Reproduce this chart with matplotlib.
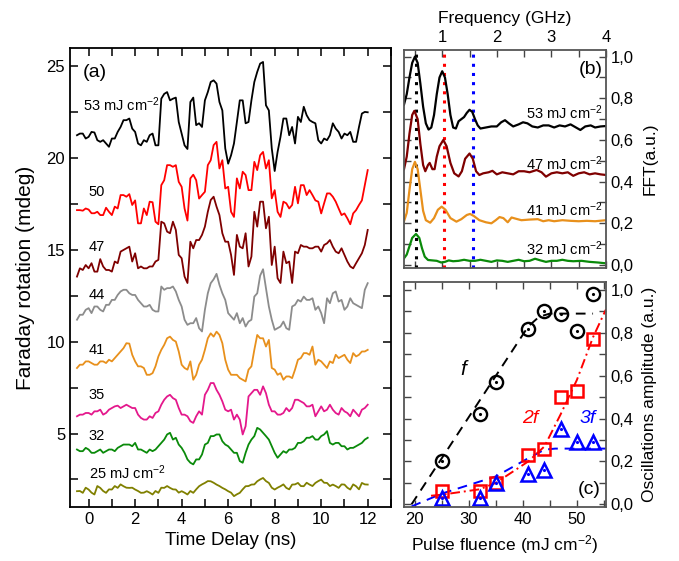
import numpy as np
import matplotlib
matplotlib.use("Agg")
import matplotlib.pyplot as plt
from matplotlib.ticker import MultipleLocator, FuncFormatter

plt.rcParams['font.family'] = ['Liberation Sans', 'DejaVu Sans']
plt.rcParams['mathtext.fontset'] = 'custom'
plt.rcParams['mathtext.rm'] = 'Liberation Sans'
plt.rcParams['mathtext.it'] = 'Liberation Sans:italic'

# ---- panel (a): Faraday rotation traces ----
# values read at t = -0.5, -0.25, ..., 12 (on) and at the midpoints -0.375, ..., 11.875 (mid)
t = np.arange(-0.5, 12.01, 0.125)

tr53_on = [21.25, 21.34, 21.16, 21.4, 20.89, 20.8, 21.07, 21.43, 22.07, 22.16, 21.43,
           20.7, 20.89, 21.34, 20.7, 23.5, 23.15, 23.3, 21.34, 20.5, 23.3, 21.9, 23.15,
           24.15, 24.06, 22.6, 19.7, 20.8, 23.15, 21.9, 23.15, 24.7, 25.24, 22.6, 19.3,
           21.16, 22.16, 21.7, 22.25, 22.8, 22.07, 21.9, 20.8, 20.98, 21.9, 21.43, 21.34,
           21.43, 20.89, 22.43, 22.5]
tr53_mid = [21.34, 21.07, 21.43, 20.98, 20.98, 20.62, 21.07, 21.7, 22.07, 21.61, 20.8,
            20.98, 21.25, 20.7, 23.24, 23.6, 23.24, 21.97, 20.7, 23.06, 21.8, 21.7, 23.6,
            24.24, 23.06, 20.53, 20.16, 21.97, 23.15, 21.97, 24.15, 25.15, 22.88, 20.53,
            20.34, 22.16, 21.25, 20.8, 21.97, 22.34, 21.97, 20.98, 21.07, 21.25, 21.61,
            21.07, 21.25, 20.89, 21.7, 22.52]
tr50_on = [17.17, 17.14, 17.2, 17.0, 16.9, 17.3, 16.9, 17.26, 17.99, 18.04, 17.7,
           16.45, 16.9, 17.6, 16.4, 18.8, 19.62, 19.62, 18.44, 16.6, 19.1, 17.8, 18.17,
           19.89, 20.89, 19.89, 18.44, 16.8, 18.35, 19.08, 18.26, 19.35, 20.34, 19.89,
           18.26, 16.8, 17.54, 17.45, 17.54, 18.53, 18.26, 17.7, 16.99, 18.08, 17.9,
           17.26, 16.99, 16.4, 17.17, 17.7, 19.35]
tr50_mid = [17.17, 17.26, 17.0, 17.08, 16.9, 17.08, 17.36, 17.99, 17.9, 17.45, 16.45,
            17.26, 17.63, 16.54, 18.53, 19.62, 19.53, 18.71, 17.26, 18.9, 18.8, 17.99,
            19.62, 20.71, 19.44, 18.35, 17.08, 18.9, 19.26, 18.26, 19.8, 20.16, 19.44,
            17.81, 17.08, 17.63, 17.26, 18.44, 18.53, 17.99, 17.99, 17.63, 17.54, 18.08,
            17.63, 16.9, 16.72, 16.99, 17.45, 18.53]
tr47_on = [13.55, 13.91, 14.0, 13.82, 14.5, 13.91, 13.82, 14.28, 15.0, 15.18, 14.82,
           14.1, 14.0, 14.1, 14.46, 16.45, 15.91, 16.09, 14.55, 13.2, 15.09, 15.54, 16.27,
           17.72, 17.36, 15.91, 15.45, 13.64, 15.18, 15.91, 14.64, 16.27, 17.63, 16.81,
           15.18, 13.2, 14.28, 13.2, 14.82, 15.18, 15.09, 15.18, 14.91, 15.36, 15.18,
           14.82, 14.73, 14.1, 14.28, 14.82, 16.09]
tr47_mid = [14.0, 14.18, 14.28, 13.82, 14.1, 13.91, 14.37, 14.91, 15.09, 14.37, 14.0,
            14.0, 14.1, 14.37, 16.54, 16.0, 16.54, 14.73, 13.55, 15.45, 15.54, 15.82,
            17.08, 17.9, 16.9, 15.45, 14.73, 15.82, 15.09, 14.1, 17.08, 17.63, 16.18,
            14.18, 13.46, 14.91, 14.37, 14.91, 15.27, 15.18, 15.09, 15.18, 15.27, 15.54,
            14.91, 15.09, 14.37, 14.0, 14.55, 15.27]
tr44_on = [11.2, 11.47, 11.83, 11.92, 11.74, 12.01, 12.28, 12.55, 12.83, 12.64, 12.55,
           12.1, 11.92, 11.74, 11.65, 12.83, 12.92, 12.74, 11.92, 10.92, 11.01, 10.74,
           11.74, 13.19, 13.7, 12.64, 11.56, 11.2, 11.01, 10.83, 11.2, 12.64, 13.95, 11.92,
           10.65, 10.83, 10.74, 11.92, 12.28, 12.46, 12.28, 11.74, 11.56, 12.37, 12.64,
           12.19, 11.74, 12.37, 12.01, 11.83, 13.19]
tr44_mid = [11.47, 11.74, 11.56, 11.92, 11.65, 12.01, 12.28, 12.74, 12.83, 12.55, 12.28,
            11.92, 12.01, 11.65, 13.01, 12.92, 13.01, 12.28, 11.2, 11.01, 11.29, 10.56,
            12.64, 13.4, 13.1, 12.28, 11.38, 11.56, 11.29, 11.1, 12.46, 13.6, 12.92, 11.2,
            10.74, 11.1, 10.65, 12.01, 12.19, 12.28, 12.37, 11.92, 11.01, 12.1, 12.74,
            12.28, 11.92, 12.1, 11.92, 12.83]
tr41_on = [8.57, 8.75, 8.93, 8.75, 8.93, 8.84, 8.93, 9.29, 9.65, 9.9, 8.93, 8.66, 8.2,
           8.29, 9.2, 9.83, 10.28, 10.01, 8.75, 8.48, 7.93, 8.75, 9.56, 10.46, 10.55, 9.92,
           8.48, 8.2, 8.02, 7.84, 8.66, 10.37, 10.19, 10.1, 8.48, 8.29, 8.11, 8.02, 9.02,
           9.38, 9.29, 8.75, 8.93, 8.57, 8.84, 9.11, 9.29, 8.84, 9.2, 9.47, 9.56]
tr41_mid = [8.75, 8.93, 8.84, 8.75, 8.93, 9.02, 9.11, 9.47, 9.92, 9.29, 8.66, 8.57, 8.2,
            8.66, 9.56, 10.19, 10.1, 9.47, 8.57, 8.93, 8.2, 9.02, 10.19, 10.28, 10.37,
            9.02, 8.2, 8.2, 7.93, 8.48, 9.56, 10.19, 9.74, 8.57, 8.2, 7.93, 8.11, 8.48,
            9.11, 9.38, 9.74, 9.02, 8.75, 8.93, 9.29, 9.2, 9.02, 9.38, 9.29, 9.47]
tr35_on = [5.94, 6.03, 6.12, 6.21, 6.3, 6.12, 6.39, 6.52, 6.48, 6.48, 6.39, 5.85, 5.76,
           5.85, 6.21, 6.84, 7.11, 6.84, 6.03, 5.94, 5.58, 6.21, 7.11, 7.75, 7.38, 6.75,
           6.21, 5.76, 5.76, 5.4, 7.2, 7.38, 7.57, 6.57, 6.21, 6.03, 6.39, 6.39, 6.84,
           6.66, 6.48, 5.94, 6.48, 6.3, 6.3, 6.03, 6.21, 5.94, 6.12, 6.3, 6.57]
tr35_mid = [6.03, 6.12, 6.03, 6.21, 6.03, 6.3, 6.48, 6.39, 6.57, 6.39, 6.03, 5.76, 5.94,
            6.12, 6.57, 7.02, 6.93, 6.39, 6.03, 5.67, 5.94, 6.03, 7.38, 7.75, 7.11, 6.3,
            6.3, 6.03, 4.95, 7.02, 7.38, 7.11, 7.2, 6.21, 6.03, 6.12, 6.21, 6.84, 6.75,
            6.48, 6.57, 6.21, 6.21, 6.57, 6.12, 6.39, 6.12, 6.3, 5.94, 6.39]
tr32_on = [4.13, 4.04, 4.13, 3.95, 4.13, 4.04, 4.13, 4.22, 4.4, 4.4, 4.49, 4.13, 3.95,
           4.04, 4.31, 4.67, 5.04, 4.77, 4.22, 3.59, 3.32, 3.59, 4.4, 4.86, 4.95, 4.58,
           4.31, 3.95, 3.5, 3.95, 4.67, 5.31, 5.04, 4.67, 3.95, 3.86, 3.95, 4.13, 4.49,
           4.58, 4.77, 4.67, 4.86, 5.13, 4.4, 4.49, 4.31, 4.22, 4.31, 4.49, 4.77]
tr32_mid = [4.04, 4.22, 3.95, 4.04, 3.95, 4.13, 4.04, 4.31, 4.4, 4.31, 4.13, 4.04, 4.13,
            4.13, 4.49, 4.95, 4.67, 4.4, 3.95, 3.41, 3.59, 3.86, 4.49, 4.86, 4.95, 4.4,
            4.13, 3.95, 3.41, 4.4, 4.86, 5.22, 4.86, 4.31, 3.68, 4.04, 4.13, 4.22, 4.49,
            4.77, 4.86, 4.67, 4.95, 4.49, 4.49, 4.31, 4.13, 4.22, 4.4, 4.67]
tr25_on = [1.86, 1.77, 1.95, 1.68, 2.04, 1.77, 1.95, 2.04, 2.13, 2.04, 1.95, 1.77, 1.86,
           1.68, 1.77, 2.04, 2.04, 1.95, 1.86, 1.68, 1.77, 2.13, 2.31, 2.4, 2.22, 2.04,
           1.86, 1.59, 1.77, 2.13, 2.22, 2.4, 2.58, 2.31, 1.95, 2.13, 2.04, 2.22, 2.31,
           2.13, 2.22, 2.31, 2.49, 2.31, 2.22, 2.04, 2.22, 1.95, 2.13, 2.31, 2.22]
tr25_mid = [1.87, 2.05, 1.78, 2.14, 1.87, 1.96, 2.14, 2.23, 2.05, 2.05, 1.87, 1.78, 1.78,
            1.87, 2.05, 2.14, 1.96, 1.78, 1.78, 1.87, 1.96, 2.23, 2.41, 2.32, 2.14, 1.96,
            1.78, 1.69, 1.96, 2.14, 2.23, 2.5, 2.41, 2.05, 2.05, 2.23, 1.96, 2.23, 2.14,
            2.32, 2.14, 2.41, 2.32, 2.14, 2.14, 2.23, 2.05, 2.23, 1.96, 2.23]

trace_on = [tr53_on, tr50_on, tr47_on, tr44_on, tr41_on, tr35_on, tr32_on, tr25_on]
trace_mid = [tr53_mid, tr50_mid, tr47_mid, tr44_mid, tr41_mid, tr35_mid, tr32_mid, tr25_mid]
trace_colors = ['black', '#ff0000', '#7f0000', '#8c8c8c', '#e8901c', '#e4188c', '#0a8a0a', '#808000']
trace_labels = ['53 mJ cm$^{-2}$', '50', '47', '44', '41', '35', '32', '25 mJ cm$^{-2}$']
label_pos = [(-0.25, 22.9), (0.0, 18.17), (0.0, 15.18), (0.0, 12.55),
             (0.0, 9.57), (0.0, 7.12), (0.0, 4.85), (0.0, 2.86)]

# ---- panel (b): FFT spectra ----
f53 = [0.30, 0.35, 0.40, 0.45, 0.50, 0.55, 0.60, 0.65, 0.70, 0.75, 0.80, 0.85, 0.90,
       0.95, 1.00, 1.05, 1.10, 1.15, 1.20, 1.25, 1.30, 1.35, 1.40, 1.45, 1.50, 1.55,
       1.60, 1.65, 1.70, 1.80, 1.90, 2.00, 2.08, 2.15, 2.22, 2.30, 2.40, 2.48, 2.56,
       2.65, 2.75, 2.85, 2.95, 3.05, 3.15, 3.25, 3.35, 3.45, 3.53, 3.62, 3.72, 3.80,
       3.90, 4.00]
a53 = [0.77, 0.82, 0.90, 0.97, 1.00, 0.97, 0.87, 0.76, 0.68, 0.65, 0.66, 0.72, 0.82,
       0.90, 0.93, 0.90, 0.82, 0.72, 0.66, 0.655, 0.69, 0.70, 0.71, 0.73, 0.745, 0.735,
       0.70, 0.67, 0.655, 0.66, 0.665, 0.665, 0.685, 0.695, 0.68, 0.665, 0.675, 0.685,
       0.68, 0.665, 0.66, 0.67, 0.67, 0.66, 0.67, 0.665, 0.675, 0.66, 0.648, 0.665,
       0.67, 0.66, 0.665, 0.667]
f47 = [0.30, 0.35, 0.40, 0.45, 0.49, 0.55, 0.60, 0.65, 0.69, 0.74, 0.77, 0.82, 0.86,
       0.90, 0.95, 1.02, 1.08, 1.15, 1.22, 1.30, 1.36, 1.42, 1.50, 1.56, 1.62, 1.68,
       1.75, 1.85, 1.92, 2.00, 2.10, 2.20, 2.30, 2.40, 2.50, 2.60, 2.73, 2.82, 2.90,
       3.00, 3.10, 3.20, 3.30, 3.40, 3.50, 3.60, 3.70, 3.80, 3.90, 4.00]
a47 = [0.46, 0.52, 0.63, 0.72, 0.74, 0.70, 0.58, 0.48, 0.45, 0.48, 0.49, 0.46, 0.46,
       0.52, 0.57, 0.60, 0.57, 0.49, 0.44, 0.425, 0.45, 0.51, 0.535, 0.51, 0.45, 0.432,
       0.44, 0.445, 0.452, 0.435, 0.445, 0.44, 0.435, 0.45, 0.45, 0.445, 0.456, 0.445,
       0.424, 0.44, 0.445, 0.44, 0.445, 0.428, 0.44, 0.445, 0.435, 0.44, 0.435, 0.432]
f41 = [0.30, 0.35, 0.40, 0.45, 0.50, 0.55, 0.60, 0.65, 0.70, 0.78, 0.85, 0.92, 0.99,
       1.06, 1.15, 1.26, 1.35, 1.45, 1.51, 1.58, 1.68, 1.80, 1.90, 1.98, 2.05, 2.12,
       2.20, 2.27, 2.35, 2.45, 2.60, 2.75, 2.85, 2.95, 3.05, 3.20, 3.35, 3.50, 3.65,
       3.80, 4.00]
a41 = [0.21, 0.25, 0.36, 0.46, 0.495, 0.46, 0.36, 0.26, 0.215, 0.203, 0.225, 0.265,
       0.28, 0.265, 0.225, 0.208, 0.22, 0.24, 0.245, 0.235, 0.215, 0.205, 0.20, 0.215,
       0.23, 0.225, 0.205, 0.228, 0.222, 0.215, 0.218, 0.22, 0.21, 0.215, 0.21, 0.215,
       0.212, 0.21, 0.212, 0.21, 0.215]
f32 = [0.30, 0.35, 0.40, 0.45, 0.52, 0.58, 0.63, 0.68, 0.74, 0.82, 0.90, 0.98, 1.05,
       1.12, 1.20, 1.30, 1.40, 1.50, 1.60, 1.70, 1.80, 1.90, 2.00, 2.10, 2.20, 2.30,
       2.40, 2.50, 2.60, 2.70, 2.80, 2.90, 3.00, 3.10, 3.20, 3.30, 3.40, 3.55, 3.70,
       3.85, 4.00]
a32 = [0.032, 0.05, 0.09, 0.13, 0.149, 0.13, 0.08, 0.04, 0.024, 0.022, 0.02, 0.012,
       0.015, 0.022, 0.018, 0.02, 0.025, 0.02, 0.02, 0.025, 0.02, 0.015, 0.022, 0.02,
       0.015, 0.02, 0.025, 0.018, 0.02, 0.03, 0.022, 0.015, 0.02, 0.02, 0.025, 0.02,
       0.018, 0.02, 0.015, 0.012, 0.008]
fft_freqs = [f53, f47, f41, f32]
fft_amps = [a53, a47, a41, a32]
fft_colors = ['black', '#7f0000', '#e8901c', '#0a8a0a']
fft_labels = ['53 mJ cm$^{-2}$', '47 mJ cm$^{-2}$', '41 mJ cm$^{-2}$', '32 mJ cm$^{-2}$']
fft_label_y = [0.73, 0.488, 0.264, 0.08]
harmonics = [0.52, 1.04, 1.56]
harm_colors = ['black', '#ff0000', '#0000ff']

# ---- panel (c): oscillation amplitudes vs fluence ----
fluence = [25, 32, 35, 41, 44, 47, 50, 53]
amp_f = [0.20, 0.42, 0.57, 0.82, 0.90, 0.89, 0.81, 0.98]
amp_2f = [0.06, 0.06, 0.10, 0.23, 0.26, 0.50, 0.53, 0.77]
amp_3f = [0.03, 0.03, 0.10, 0.14, 0.16, 0.35, 0.29, 0.29]
fit_f_x = [19.4, 41, 43, 45, 53]
fit_f_y = [0.0, 0.83, 0.875, 0.89, 0.89]
fit_2f_x = [23, 25, 32, 35, 41, 44, 47, 50, 53, 55.4]
fit_2f_y = [0.04, 0.045, 0.07, 0.10, 0.20, 0.27, 0.42, 0.58, 0.78, 0.91]
fit_3f_x = [19.4, 25, 30, 35, 41, 44, 46, 55.4]
fit_3f_y = [-0.01, 0.05, 0.09, 0.13, 0.215, 0.255, 0.26, 0.26]

comma = FuncFormatter(lambda v, p: ('%.1f' % v).replace('.', ','))

fig = plt.figure(figsize=(6.79, 5.61), dpi=100)
ax_a = fig.add_axes([0.1031, 0.0963, 0.4727, 0.8181])
ax_b = fig.add_axes([0.595, 0.5217, 0.2975, 0.3892])
ax_c = fig.add_axes([0.595, 0.0957, 0.2975, 0.4022])

# panel (a)
for on, mid, c in zip(trace_on, trace_mid, trace_colors):
    vals = np.empty(len(t))
    vals[0::2] = on
    vals[1::2] = mid
    ax_a.plot(t, vals, color=c, lw=1.3)
for (x, y), s in zip(label_pos, trace_labels):
    ax_a.text(x, y, s, fontsize=10.5, va='center', ha='left')
ax_a.text(-0.25, 24.67, '(a)', fontsize=14, va='center', ha='left')
ax_a.set_xlim(-0.8, 13)
ax_a.set_ylim(1, 26)
ax_a.xaxis.set_major_locator(MultipleLocator(2))
ax_a.xaxis.set_minor_locator(MultipleLocator(1))
ax_a.yaxis.set_major_locator(MultipleLocator(5))
ax_a.yaxis.set_minor_locator(MultipleLocator(2.5))
ax_a.tick_params(which='both', direction='in', top=True, right=True, labelsize=12,
                 width=1.1, length=6)
ax_a.set_xlabel('Time Delay (ns)', fontsize=13.5, labelpad=4)
ax_a.set_ylabel('Faraday rotation (mdeg)', fontsize=15, labelpad=8)
for sp in ax_a.spines.values():
    sp.set_linewidth(1.3)

# panel (b)
for fx, c in zip(harmonics, harm_colors):
    ax_b.axvline(fx, color=c, ls=(0, (1, 2)), lw=2.2)
for fr, am, c in zip(fft_freqs, fft_amps, fft_colors):
    ax_b.plot(fr, am, color=c, lw=1.6)
for y, s in zip(fft_label_y, fft_labels):
    ax_b.text(2.54, y, s, fontsize=10.5, va='center', ha='left')
ax_b.text(3.5, 0.936, '(b)', fontsize=14, va='center', ha='left')
ax_b.set_xlim(0.3, 4.0)
ax_b.set_ylim(-0.016, 1.032)
ax_b.xaxis.set_major_locator(MultipleLocator(1))
ax_b.xaxis.set_minor_locator(MultipleLocator(0.5))
ax_b.yaxis.set_major_locator(MultipleLocator(0.2))
ax_b.yaxis.set_minor_locator(MultipleLocator(0.1))
ax_b.yaxis.set_major_formatter(comma)
ax_b.xaxis.set_label_position('top')
ax_b.yaxis.set_label_position('right')
ax_b.tick_params(which='both', direction='in', top=True, bottom=True, left=True, right=True,
                 labeltop=True, labelbottom=False, labelleft=False, labelright=True,
                 labelsize=12, width=1.0, length=5, color='#444444')
ax_b.set_xlabel('Frequency (GHz)', fontsize=12.5, labelpad=5)
ax_b.set_ylabel('FFT(a.u.)', fontsize=12.5, labelpad=6)

# panel (c)
ax_c.plot(fit_f_x, fit_f_y, color='black', ls=(0, (5, 3.5)), lw=1.4)
ax_c.plot(fit_3f_x, fit_3f_y, color='#0000ff', ls=(0, (5, 3.5)), lw=1.4)
ax_c.plot(fit_2f_x, fit_2f_y, color='#ff0000', ls=(0, (5, 2, 1, 2)), lw=1.4)
ax_c.plot(fluence, amp_f, 'o', ms=9.5, mfc='none', mec='black', mew=1.7)
ax_c.plot(fluence, amp_2f, 's', ms=8, mfc='none', mec='#ff0000', mew=1.8)
ax_c.plot(fluence, amp_3f, '^', ms=10.5, mfc='none', mec='#0000ff', mew=1.8)
ax_c.plot(fluence, amp_f, '.', ms=2.5, color='black')
ax_c.plot(fluence, amp_3f, '.', ms=2.5, color='#0000ff')
ax_c.text(28.4, 0.627, 'f', fontsize=15, style='italic', va='center', ha='left')
ax_c.text(39.8, 0.40, '2f', fontsize=14, style='italic', color='#ff0000', va='center', ha='left')
ax_c.text(50.5, 0.40, '3f', fontsize=14, style='italic', color='#0000ff', va='center', ha='left')
ax_c.text(50.2, 0.067, '(c)', fontsize=14, va='center', ha='left')
ax_c.set_xlim(18, 55.4)
ax_c.set_ylim(-0.014, 1.039)
ax_c.xaxis.set_major_locator(MultipleLocator(10))
ax_c.xaxis.set_minor_locator(MultipleLocator(5))
ax_c.yaxis.set_major_locator(MultipleLocator(0.2))
ax_c.yaxis.set_minor_locator(MultipleLocator(0.1))
ax_c.yaxis.set_major_formatter(comma)
ax_c.yaxis.set_label_position('right')
ax_c.tick_params(which='both', direction='in', top=True, bottom=True, left=True, right=True,
                 labelleft=False, labelright=True, labelsize=12, width=1.0, length=5,
                 color='#444444')
ax_c.set_xlabel('Pulse fluence (mJ cm$^{-2}$)', fontsize=12.5, labelpad=4)
ax_c.set_ylabel('Oscillations amplitude (a.u.)', fontsize=12.5, labelpad=6)

for ax in (ax_b, ax_c):
    for sp in ax.spines.values():
        sp.set_linewidth(1.3)
        sp.set_color('#555555')

fig.savefig('out.png', dpi=100)
